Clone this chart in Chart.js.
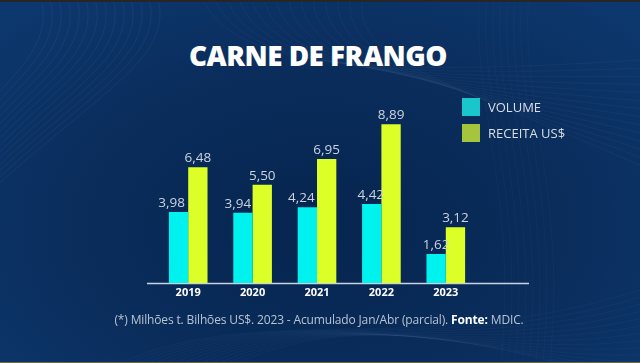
<!DOCTYPE html>
<html>
<head>
<meta charset="utf-8">
<script src="https://cdn.jsdelivr.net/npm/chart.js@4.4.0/dist/chart.umd.min.js"></script>
<style>
  html, body { margin: 0; padding: 0; }
  body { width: 640px; height: 363px; overflow: hidden; }
  #wrap {
    position: relative; width: 640px; height: 363px; overflow: hidden;
    background: radial-gradient(ellipse 70% 80% at 50% 62%, #06254f 0%, #0a2d5c 55%, #0d386e 100%);
    font-family: "Open Sans", "DejaVu Sans", sans-serif;
  }
  #topbar { position: absolute; left: 0; top: 0; width: 640px; height: 2px; background: #262626; }
  #botbar { position: absolute; left: 0; bottom: 0; width: 640px; height: 1px; background: #6e6a45; }
  #deco { position: absolute; left: 0; top: 0; }
  #chart { position: absolute; left: 0; top: 0; }
  #title {
    position: absolute; left: 0; width: 636px; top: 36px; text-align: center;
    color: #ffffff; font-weight: 800; font-size: 27.8px; letter-spacing: -0.5px;
  }
  .leg { position: absolute; left: 462px; height: 18px; color: #d9dee6; font-size: 13px; line-height: 18px; }
  .leg span.sw { position: absolute; left: 0; top: 0; width: 18px; height: 18px; }
  .leg span.tx { position: absolute; left: 26px; top: 0; white-space: nowrap; }
  #foot {
    position: absolute; left: 0; width: 638px; top: 311px; text-align: center;
    color: #b8c3d2; font-size: 12px; letter-spacing: -0.15px; white-space: nowrap;
  }
  #foot b { color: #ffffff; font-weight: 700; }
</style>
</head>
<body>
<div id="wrap">
  <svg id="deco" width="640" height="363"></svg>
  <div id="topbar"></div>
  <div id="title">CARNE DE FRANGO</div>
  <canvas id="chart" width="640" height="363"></canvas>
  <div class="leg" id="leg0" style="top:98px"><span class="sw"></span><span class="tx"></span></div>
  <div class="leg" id="leg1" style="top:124px"><span class="sw"></span><span class="tx"></span></div>
  <div id="foot">(*) Milhões t. Bilhões US$. 2023 - Acumulado Jan/Abr (parcial). <b>Fonte:</b> MDIC.</div>
  <div id="botbar"></div>
</div>
<script>
// ---- data ----
const categories = ['2019', '2020', '2021', '2022', '2023'];
const volume = [3.98, 3.94, 4.24, 4.42, 1.62];
const receita = [6.48, 5.50, 6.95, 8.89, 3.12];
const seriesNames = ['VOLUME', 'RECEITA US$'];

// ---- styles ----
const barColors = ['#00f2ee', '#dcff28'];
const legendColors = ['#18c6cc', '#a5c53c'];
// horizontal nudge of the value labels (style only), per dataset / category
const labelNudge = [[-7, -5, -6, -1, 0], [0, 0, 0, 0, 0]];

// legend
seriesNames.forEach((n, i) => {
  const el = document.getElementById('leg' + i);
  el.querySelector('.sw').style.background = legendColors[i];
  el.querySelector('.tx').textContent = n;
});

// decorative contour lines
(function () {
  const svg = document.getElementById('deco');
  const ns = 'http://www.w3.org/2000/svg';
  function add(d, a) {
    const p = document.createElementNS(ns, 'path');
    p.setAttribute('d', d);
    p.setAttribute('fill', 'none');
    p.setAttribute('stroke', 'rgba(140,180,225,' + a + ')');
    p.setAttribute('stroke-width', '0.8');
    svg.appendChild(p);
  }
  for (let i = 0; i < 14; i++) {
    const o = i * 9;
    add(`M ${40 + o} -5 C ${60 + o} 60, ${-20 + o} 90, ${-30} ${140 + o * 0.6}`, 0.10);
    add(`M ${200 + o * 1.4} -5 C ${230 + o} 60, ${330 + o} 80, ${640} ${60 + o * 0.9}`, 0.07);
    add(`M ${120 + o} 363 C ${260 + o} 300, ${420 + o} 360, ${640} ${290 + o * 0.8}`, 0.06);
  }
  for (let i = 0; i < 8; i++) {
    const o = i * 7;
    add(`M ${480 + o} -5 C ${470 + o} 100, ${520 + o} 200, ${500 + o} 370`, 0.05);
  }
})();

// ---- plugins ----
const baselinePlugin = {
  id: 'baseline',
  beforeDatasetsDraw(chart) {
    const { ctx, chartArea, scales } = chart;
    const y = Math.round(scales.y.getPixelForValue(0)) + 0.5;
    ctx.save();
    ctx.strokeStyle = '#c9d2de';
    ctx.lineWidth = 1.5;
    ctx.beginPath();
    ctx.moveTo(chartArea.left - 9, y);
    ctx.lineTo(chartArea.right + 51, y);
    ctx.stroke();
    ctx.restore();
  }
};

const valueLabelPlugin = {
  id: 'valueLabels',
  afterDatasetsDraw(chart) {
    const { ctx } = chart;
    ctx.save();
    ctx.font = '400 13.5px "Open Sans", sans-serif';
    ctx.fillStyle = '#cbd3df';
    ctx.textAlign = 'center';
    ctx.textBaseline = 'alphabetic';
    chart.data.datasets.forEach((ds, di) => {
      const meta = chart.getDatasetMeta(di);
      meta.data.forEach((bar, i) => {
        const v = ds.data[i];
        ctx.fillText(v.toFixed(2).replace('.', ','), bar.x + labelNudge[di][i], bar.y - 5);
      });
    });
    ctx.restore();
  }
};

new Chart(document.getElementById('chart'), {
  type: 'bar',
  data: {
    labels: categories,
    datasets: [
      { label: seriesNames[0], data: volume, backgroundColor: barColors[0], borderWidth: 0 },
      { label: seriesNames[1], data: receita, backgroundColor: barColors[1], borderWidth: 0 }
    ]
  },
  options: {
    responsive: false,
    animation: false,
    events: [],
    layout: { padding: { left: 156, right: 162, top: 104.5, bottom: 0 } },
    datasets: { bar: { categoryPercentage: 0.6, barPercentage: 1.0 } },
    plugins: { legend: { display: false }, tooltip: { enabled: false }, title: { display: false } },
    scales: {
      y: { display: false, min: 0, max: 10 },
      x: {
        grid: { display: false, drawTicks: false },
        border: { display: false },
        ticks: {
          color: '#ffffff',
          font: { family: '"Open Sans", sans-serif', size: 11, weight: '700' },
          padding: 3
        },
        afterFit(scale) { scale.height = 80; }
      }
    }
  },
  plugins: [baselinePlugin, valueLabelPlugin]
});
</script>
</body>
</html>
